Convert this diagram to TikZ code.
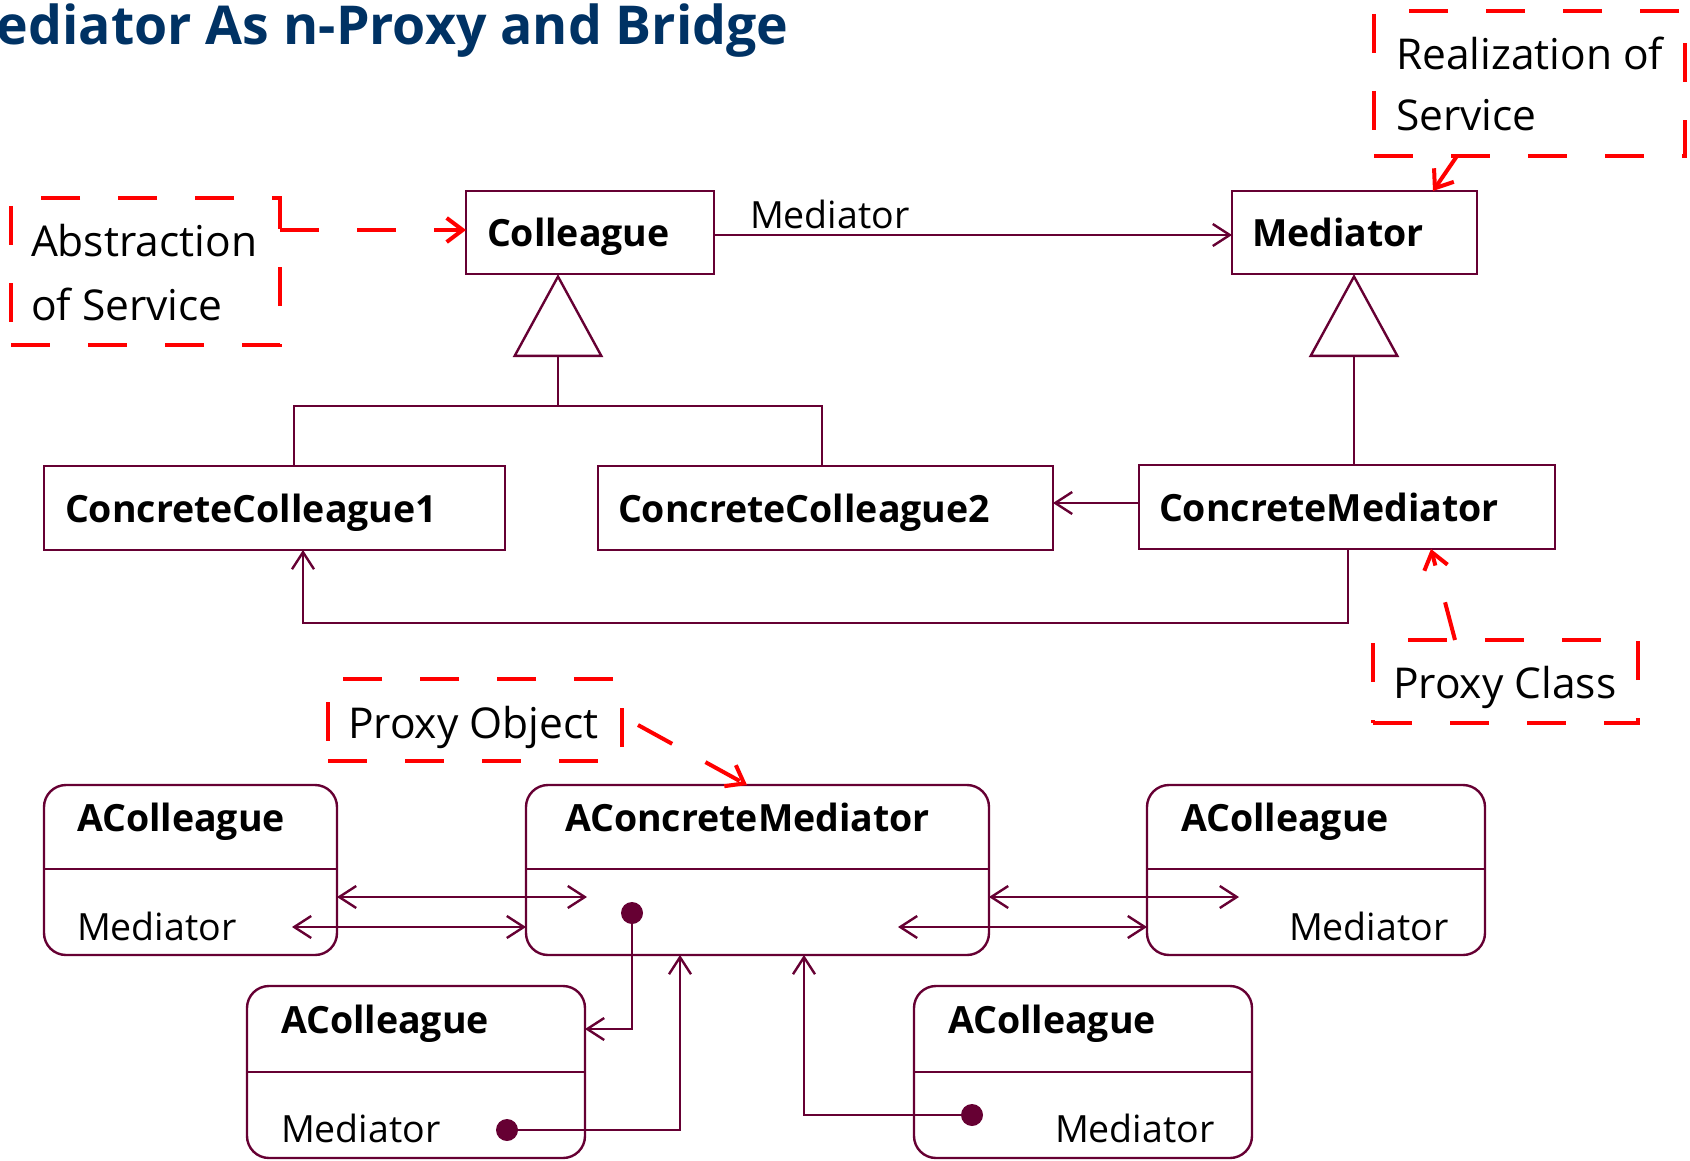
\documentclass[tikz,border=0pt]{standalone}
\usepackage{fontspec}
\setmainfont{Open Sans}
\usetikzlibrary{arrows.meta,calc}
\definecolor{umlline}{RGB}{102,0,51}
\definecolor{noteRed}{RGB}{255,0,0}
\definecolor{titleBlue}{RGB}{0,50,100}
\begin{document}
\begin{tikzpicture}[x=1pt,y=-1pt,
  every node/.style={inner sep=0pt, outer sep=0pt},
  classbox/.style={draw=umlline, line width=2.4pt, rectangle},
  objbox/.style={draw=umlline, line width=2.4pt, rounded corners=22pt},
  lbl/.style={anchor=base west, font=\fontsize{37.5}{44}\selectfont},
  blbl/.style={anchor=base west, font=\fontsize{37.5}{44}\selectfont\bfseries},
  note/.style={anchor=base west, font=\fontsize{42.5}{48}\selectfont},
  notebox/.style={draw=noteRed, line width=4pt, dash pattern=on 39pt off 38pt},
  link/.style={draw=umlline, line width=2.4pt},
  openhead/.style={-{Straight Barb[length=17pt,width=22pt,line width=2.4pt]}},
  twohead/.style={{Straight Barb[length=17pt,width=22pt,line width=2.4pt]}-{Straight Barb[length=17pt,width=22pt,line width=2.4pt]}},
  gen/.style={-{Triangle[open,length=83pt,width=90pt,line width=2.4pt]}},
  notelink/.style={draw=noteRed, line width=4pt, dash pattern=on 39pt off 38pt,
    -{Straight Barb[length=16pt,width=24pt,line width=4pt]}},
  dot/.style={circle, fill=umlline, minimum size=22pt}
]
\useasboundingbox (0,0) rectangle (1690,1161);

% heading
\node[anchor=base west, text=titleBlue, font=\fontsize{53.6}{60}\selectfont\bfseries] (title) at (-3,45) {ediator As n-Proxy and Bridge};

% class diagram
\node[classbox, minimum width=248pt, minimum height=83pt] (colleague) at (590,232.5) {};
\node[classbox, minimum width=245pt, minimum height=83pt] (mediator) at (1354.5,232.5) {};
\node[classbox, minimum width=461pt, minimum height=84pt] (cc1) at (274.5,508) {};
\node[classbox, minimum width=455pt, minimum height=84pt] (cc2) at (825.5,508) {};
\node[classbox, minimum width=416pt, minimum height=84pt] (cm) at (1347,507) {};

\node[blbl] (tColleague) at (487,247) {Colleague};
\node[blbl] (tMediator) at (1252,247) {Mediator};
\node[blbl] (tCC1) at (65,522) {ConcreteColleague1};
\node[blbl] (tCC2) at (618,522) {ConcreteColleague2};
\node[blbl] (tCM) at (1159,521) {ConcreteMediator};
\node[lbl] (tAssoc) at (750,229) {Mediator};

% associations and generalizations
\draw[link, openhead] (colleague.east |- 0,235) -- (mediator.west |- 0,235);
\coordinate (fork) at (558,406);
\draw[link] (294,0 |- cc1.north) -- (294,406) -- (822,406) -- (822,0 |- cc2.north);
\draw[link, gen] (fork) -- (558,0 |- colleague.south);
\draw[link, gen] (1354,0 |- cm.north) -- (1354,0 |- mediator.south);
\draw[link, openhead] (cm.west |- 0,503) -- (cc2.east |- 0,503);
\draw[link, openhead] (1348,0 |- cm.south) -- (1348,623) -- (303,623) -- (303,0 |- cc1.south);

% object diagram
\node[objbox, minimum width=293pt, minimum height=170pt] (acl) at (190.5,870) {};
\node[objbox, minimum width=463pt, minimum height=170pt] (ocm) at (757.5,870) {};
\node[objbox, minimum width=338pt, minimum height=170pt] (acr) at (1316,870) {};
\node[objbox, minimum width=338pt, minimum height=172pt] (acb1) at (416,1072) {};
\node[objbox, minimum width=338pt, minimum height=172pt] (acb2) at (1083,1072) {};

\draw[link] (acl.west |- 0,869) -- (acl.east |- 0,869);
\draw[link] (ocm.west |- 0,869) -- (ocm.east |- 0,869);
\draw[link] (acr.west |- 0,869) -- (acr.east |- 0,869);
\draw[link] (acb1.west |- 0,1072) -- (acb1.east |- 0,1072);
\draw[link] (acb2.west |- 0,1072) -- (acb2.east |- 0,1072);

\node[blbl] (tACL) at (77,831) {AColleague};
\node[lbl] (tACLm) at (77,940) {Mediator};
\node[blbl] (tOCM) at (565,831) {AConcreteMediator};
\node[blbl] (tACR) at (1181,831) {AColleague};
\node[lbl] (tACRm) at (1289,940) {Mediator};
\node[blbl] (tACB1) at (281,1033) {AColleague};
\node[lbl] (tACB1m) at (281,1142) {Mediator};
\node[blbl] (tACB2) at (948,1033) {AColleague};
\node[lbl] (tACB2m) at (1055,1142) {Mediator};

% links between objects
\coordinate (ocmIn) at (587,897);
\coordinate (aclIn) at (292,927);
\coordinate (acrIn) at (1239,897);
\coordinate (ocmInR) at (898,927);
\draw[link, twohead] (acl.east |- 0,897) -- (ocmIn);
\draw[link, twohead] (aclIn) -- (ocm.west |- 0,927);
\draw[link, twohead] (ocm.east |- 0,897) -- (acrIn);
\draw[link, twohead] (ocmInR) -- (acr.west |- 0,927);

\node[dot] (d1) at (632,913) {};
\node[dot] (d2) at (507,1130) {};
\node[dot] (d3) at (972,1115) {};
\draw[link, openhead] (d1.center) |- (acb1.east |- 0,1029);
\draw[link, openhead] (d2.center) -| (680,0 |- ocm.south);
\draw[link, openhead] (d3.center) -| (804,0 |- ocm.south);

% notes
\node[notebox, minimum width=311pt, minimum height=145pt] (realnote) at (1529.5,83.5) {};
\node[note] (tReal1) at (1396,70) {Realization of};
\node[note] (tReal2) at (1396,131) {Service};
\node[notebox, minimum width=269pt, minimum height=147pt] (absnote) at (145.5,271.5) {};
\node[note] (tAbs1) at (31,257) {Abstraction};
\node[note] (tAbs2) at (31,320) {of Service};
\node[notebox, minimum width=265pt, minimum height=83pt] (pcnote) at (1505.5,681.5) {};
\node[note] (tPC) at (1393,698) {Proxy Class};
\node[notebox, minimum width=294pt, minimum height=82pt] (ponote) at (475,720) {};
\node[note] (tPO) at (348,738) {Proxy Object};

\draw[notelink] (1457,0 |- realnote.south) -- (1433,0 |- mediator.north);
\draw[notelink] (absnote.east |- 0,230) -- (colleague.west |- 0,230);
\draw[notelink] (1455,0 |- pcnote.north) -- (1431,0 |- cm.south);
\coordinate (poStart) at (638,725);
\draw[notelink] (poStart) -- (747,0 |- ocm.north);
\end{tikzpicture}
\end{document}
